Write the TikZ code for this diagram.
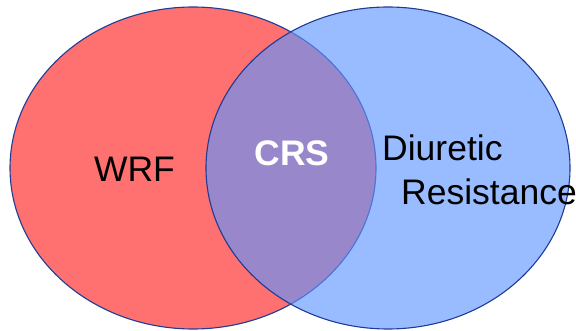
\documentclass[tikz,border=0pt]{standalone}
\usepackage{fontspec}
\setmainfont{Liberation Sans}
\usetikzlibrary{shapes.geometric}
\definecolor{vred}{RGB}{255,112,112}
\definecolor{vblue}{RGB}{96,149,255}
\definecolor{vedge}{RGB}{30,60,150}
\tikzset{
  setshape/.style={ellipse, inner sep=0pt, minimum width=366pt, minimum height=322pt, draw=vedge, line width=1.1pt},
  lbl/.style={inner sep=0pt, font=\fontsize{35.5}{40}\selectfont}
}
\begin{document}
\begin{tikzpicture}[x=1pt,y=-1pt]
\useasboundingbox (0,0) rectangle (576,331);
\node[setshape, fill=vred] (wrf) at (193,168) {};
\node[setshape, minimum width=364pt, fill=vblue, fill opacity=0.643] (dr) at (388,168) {};
\node[lbl, anchor=base] (t1) at (134.5,182) {WRF};
\node[lbl, anchor=base, text=white, font=\fontsize{35.5}{40}\selectfont\bfseries] (t2) at (292,166) {CRS};
\node[lbl, anchor=base west] (t3) at (382,161) {Diuretic};
\node[lbl, anchor=base west] (t4) at (401,205) {Resistance};
\end{tikzpicture}
\end{document}
